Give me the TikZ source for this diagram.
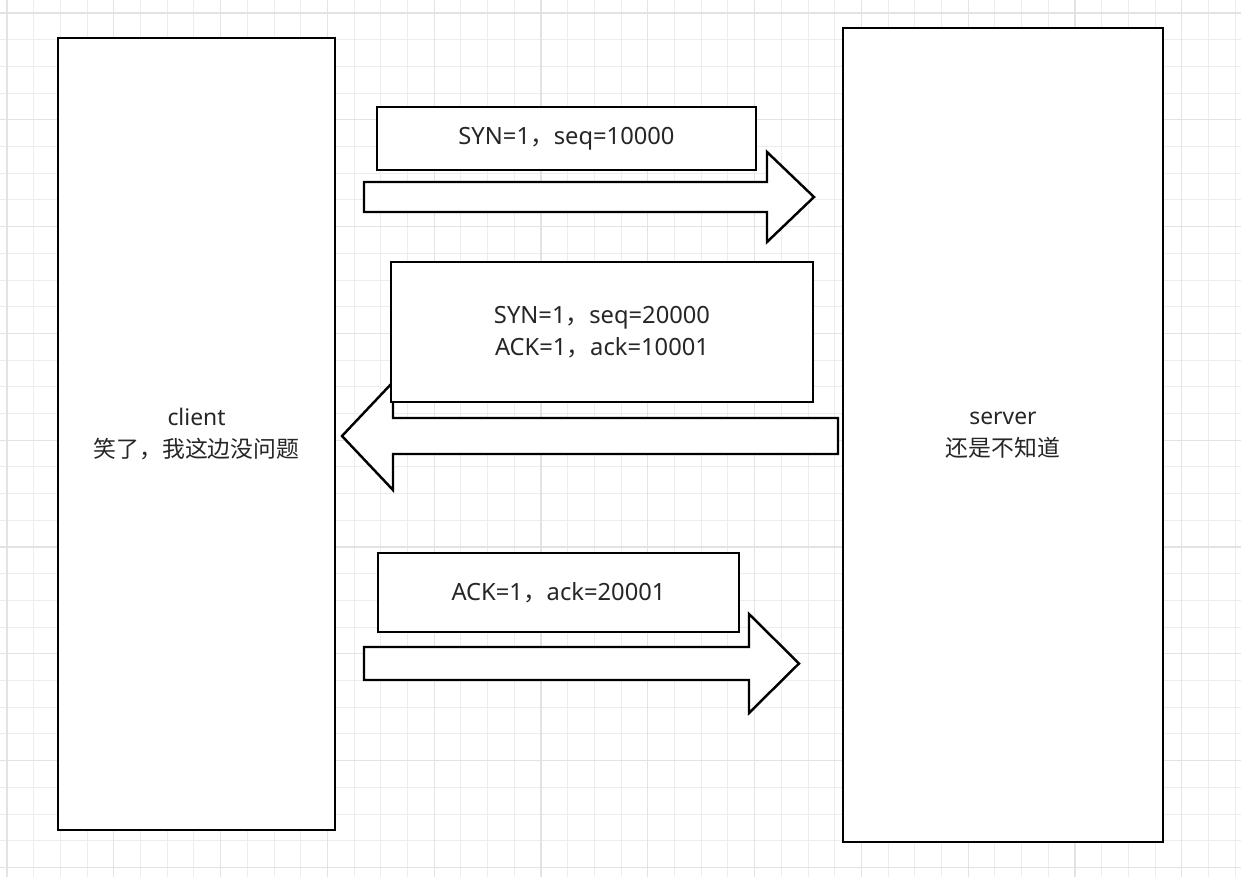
\documentclass[tikz,border=0pt]{standalone}
\usepackage{fontspec}
\setmainfont{Noto Sans}
\newfontfamily\cjk{Noto Sans CJK SC}
\usepackage{tikz}
\usetikzlibrary{positioning}

\begin{document}
\begin{tikzpicture}[x=0.02cm,y=-0.02cm,
  gridminor/.style={draw=black!7,line width=0.5pt},
  gridmajor/.style={draw=black!11,line width=0.6pt},
  hostbox/.style={draw=black,line width=1.6pt,fill=white,align=center,
    font=\fontsize{13}{18}\selectfont,text=black!85},
  msgbox/.style={draw=black,line width=1.6pt,fill=white,align=center,
    font=\fontsize{13.5}{18}\selectfont,text=black!85},
  fatarrow/.style={draw=black,line width=1.4pt,fill=white,line join=miter}]
\useasboundingbox (0,0) rectangle (1241,877);
% background grid
\foreach \gx in {0,...,46} {\draw[gridminor] ({7+26.7*\gx},0) -- ({7+26.7*\gx},877);}
\foreach \gy in {0,...,32} {\draw[gridminor] (0,{13+26.7*\gy}) -- (1241,{13+26.7*\gy});}
\foreach \gx in {0,4,...,44} {\draw[gridmajor] ({7+26.7*\gx},0) -- ({7+26.7*\gx},877);}
\foreach \gy in {0,4,...,32} {\draw[gridmajor] (0,{13+26.7*\gy}) -- (1241,{13+26.7*\gy});}
% the two hosts
\node[hostbox,minimum width=5.54cm,minimum height=15.84cm] (client) at (196.5,434)
  {client\\{\cjk 笑了，我这边没问题}};
\node[hostbox,minimum width=6.4cm,minimum height=16.28cm] (server) at (1003,435)
  {server\\{\cjk 还是不知道}};
% fat arrows (drawn first, the message boxes lie on top)
\draw[fatarrow] (364,182) -- (767,182) -- (767,152) -- (814,197) -- (767,242)
  -- (767,212) -- (364,212) -- cycle;
\draw[fatarrow] (838,418) -- (393,418) -- (393,382) -- (342,436) -- (393,490)
  -- (393,454) -- (838,454) -- cycle;
\draw[fatarrow] (364,647) -- (749,647) -- (749,614) -- (799,663.5) -- (749,713)
  -- (749,680) -- (364,680) -- cycle;
% segments
\node[msgbox,minimum width=7.58cm,minimum height=1.26cm] (syn) at (566.5,138.5)
  {SYN=1{\cjk ，}seq=10000};
\node[msgbox,minimum width=8.44cm,minimum height=2.8cm] (synack) at (602,332)
  {SYN=1{\cjk ，}seq=20000\\ACK=1{\cjk ，}ack=10001};
\node[msgbox,minimum width=7.22cm,minimum height=1.58cm] (ack) at (558.5,592.5)
  {ACK=1{\cjk ，}ack=20001};
\end{tikzpicture}
\end{document}
